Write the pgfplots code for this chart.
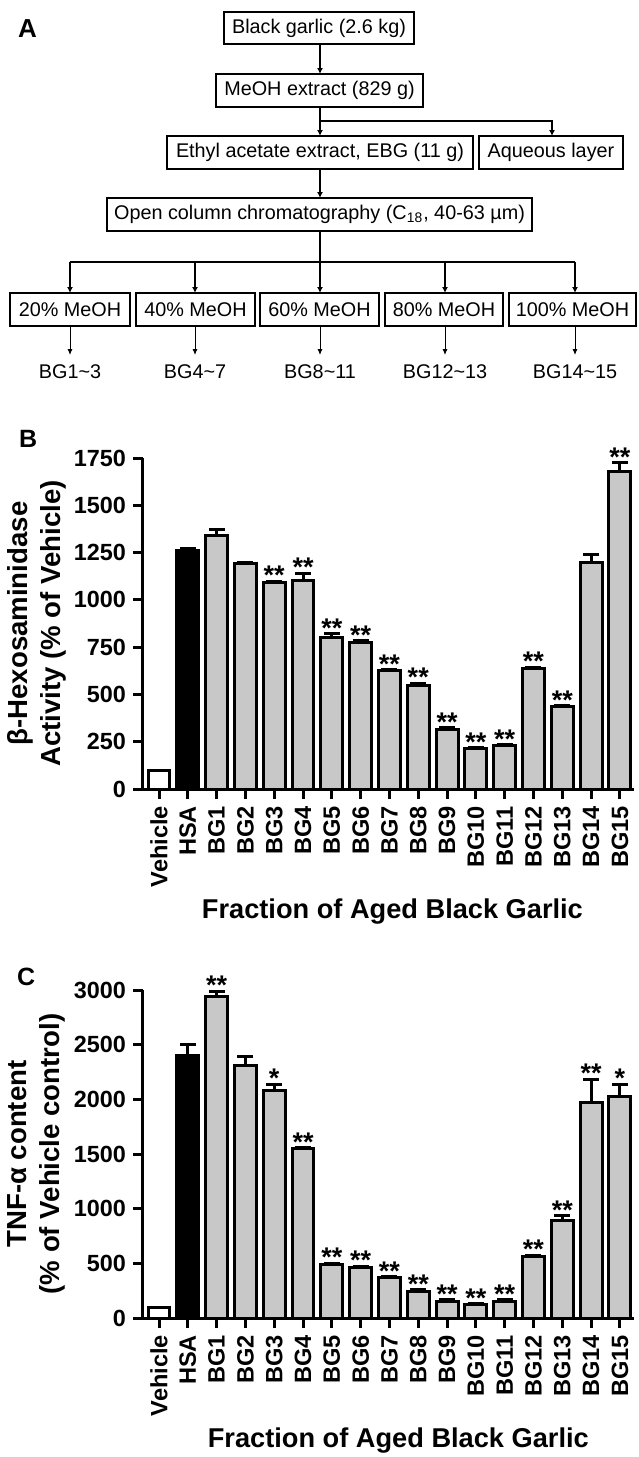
\documentclass[border=0pt]{standalone}
\usepackage{fontspec}
\setmainfont{Liberation Sans}
\usepackage{pgfplots}
\usepackage{pgfplotstable}
\pgfplotsset{compat=1.18}
\usetikzlibrary{arrows.meta}
\definecolor{bargray}{RGB}{200,200,200}

% B: beta-hexosaminidase release (x, mean, error, significance)
\pgfplotstableread{
x y e s
2 1340 30 {}
3 1190 5 {}
4 1090 8 **
5 1100 40 **
6 800 22 **
7 775 10 **
8 625 5 **
9 545 15 **
10 315 8 **
11 215 5 **
12 230 5 **
13 635 10 **
14 435 5 **
15 1200 40 {}
16 1680 45 **
}\dataB

% C: TNF-alpha content
\pgfplotstableread{
x y e s
2 2940 50 **
3 2310 80 {}
4 2080 60 *
5 1550 10 **
6 490 10 **
7 460 15 **
8 370 10 **
9 240 20 **
10 150 15 **
11 120 10 **
12 155 15 **
13 565 10 **
14 890 45 **
15 1970 215 **
16 2030 110 *
}\dataC

\pgfplotsset{
  bgbar/.style={
    scale only axis, width=245.5pt, anchor=south west,
    xmin=-0.556, xmax=16.49, ymin=0,
    axis x line=bottom, axis y line=left,
    axis line style={-, line width=1.5pt},
    tick style={line width=1.5pt, black}, major tick length=5pt, tick align=outside,
    xtick={0,...,16},
    xticklabels={Vehicle,HSA,BG1,BG2,BG3,BG4,BG5,BG6,BG7,BG8,BG9,BG10,BG11,BG12,BG13,BG14,BG15},
    xticklabel style={rotate=90, anchor=east, font=\bfseries\fontsize{11.8}{12}\selectfont},
    yticklabel style={font=\bfseries\fontsize{11.7}{12}\selectfont},
    /pgf/number format/1000 sep={},
    /pgf/number format/assume math mode=true,
    xlabel={Fraction of Aged Black Garlic},
    xlabel style={anchor=base, font=\bfseries\fontsize{13.6}{16}\selectfont},
    ylabel style={anchor=center, align=center, font=\bfseries\fontsize{13.8}{16.5}\selectfont,
      at={(axis description cs:-0.217,0.5)}},
    clip=false,
  },
  barsty/.style={ybar, bar width=0.76, draw=black, line width=1.5pt,
    error bars/y dir=plus, error bars/y explicit,
    error bars/error bar style={line width=1.5pt},
    error bars/error mark options={rotate=90, line width=1.5pt, mark size=4pt}},
  stars/.style={draw=none, mark=none, forget plot, nodes near coords,
    point meta=explicit symbolic,
    nodes near coords style={anchor=south, inner sep=0pt, yshift=-2pt,
      font=\bfseries\fontsize{13.5}{13.5}\selectfont}},
}

\begin{document}
\begin{tikzpicture}
\useasboundingbox (0,0) rectangle (319pt,-728.5pt);

% ---- panel A: flow chart, in pixel units ----
\begin{scope}[x=0.5pt, y=-0.5pt, font=\fontsize{9.9}{12}\selectfont,
  bx/.style={draw, line width=0.6pt},
  cn/.style={line width=1.1pt},
  ar/.style={line width=1.1pt, -{Latex[length=3pt,width=3pt]}}]
  \node[anchor=base west, font=\bfseries\fontsize{13}{13}\selectfont] at (11,37) {A};
  \node[anchor=base west, font=\bfseries\fontsize{12.5}{13}\selectfont] at (12,447) {B};
  \node[anchor=base west, font=\bfseries\fontsize{12.5}{13}\selectfont] at (10,985) {C};

  \draw[bx] (224,12) rectangle (414,44);
  \node at (319,28) {Black garlic (2.6 kg)};
  \draw[ar] (320,44) -- (320,74);
  \draw[bx] (216,74) rectangle (423,107);
  \node at (319.5,90.5) {MeOH extract (829 g)};
  \draw[ar] (320,107) -- (320,136);
  \draw[ar] (320,121) -- (552,121) -- (552,136);
  \draw[bx] (167,136) rectangle (473,169);
  \node at (320,152.5) {Ethyl acetate extract, EBG (11 g)};
  \draw[bx] (479,136) rectangle (623,169);
  \node at (551,152.5) {Aqueous layer};
  \draw[ar] (320,169) -- (320,198);
  \draw[bx] (107,198) rectangle (532,231);
  \node at (319.5,214.5) {Open column chromatography (C\textsubscript{18}, 40-63 µm)};
  \draw[cn] (320,231) -- (320,262);
  \draw[cn] (70,262) -- (575,262);
  \foreach \xx in {70,195,320,445,575}
    \draw[ar] (\xx,262) -- (\xx,293);
  \draw[bx] (10,293) rectangle (130,326);   \node at (70,309.5) {20\% MeOH};
  \draw[bx] (136,293) rectangle (255,326);  \node at (195.5,309.5) {40\% MeOH};
  \draw[bx] (260,293) rectangle (379,326);  \node at (319.5,309.5) {60\% MeOH};
  \draw[bx] (385,293) rectangle (503,326);  \node at (444,309.5) {80\% MeOH};
  \draw[bx] (509,293) rectangle (636,326);  \node at (572.5,309.5) {100\% MeOH};
  \foreach \xx/\lab in {70/BG1\textasciitilde 3, 195/BG4\textasciitilde 7, 320/BG8\textasciitilde 11,
                        445/BG12\textasciitilde 13, 575/BG14\textasciitilde 15} {
    \draw[line width=0.5pt, -{Latex[length=3pt,width=2.6pt]}] (\xx,326) -- (\xx,355);
    \node at (\xx,372) {\lab};
  }
\end{scope}

% ---- panel B ----
\begin{axis}[bgbar, at={(71.5pt,-394.5pt)}, height=165.5pt,
  ymax=1750, ytick={0,250,...,1750},
  ylabel={β-Hexosaminidase\\Activity (\% of Vehicle)},
  xlabel style={at={(axis description cs:0.508,-0.39)}},
]
  \addplot[ybar, bar width=0.76, fill=white, draw=black, line width=1.5pt] coordinates {(0,100)};
  \addplot[fill=black, barsty] coordinates {(1,1260) +- (0,12)};
  \addplot[fill=bargray, barsty] table[x=x, y=y, y error=e] {\dataB};
  \addplot[stars] table[x=x, y expr=\thisrow{y}+\thisrow{e}, meta=s] {\dataB};
\end{axis}

% ---- panel C ----
\begin{axis}[bgbar, at={(71.5pt,-659pt)}, height=164pt,
  ymax=3000, ytick={0,500,...,3000},
  ylabel={TNF-α content\\(\% of Vehicle control)},
  xlabel style={at={(axis description cs:0.52,-0.396)}},
]
  \addplot[ybar, bar width=0.76, fill=white, draw=black, line width=1.5pt] coordinates {(0,100)};
  \addplot[fill=black, barsty] coordinates {(1,2400) +- (0,100)};
  \addplot[fill=bargray, barsty] table[x=x, y=y, y error=e] {\dataC};
  \addplot[stars] table[x=x, y expr=\thisrow{y}+\thisrow{e}, meta=s] {\dataC};
\end{axis}
\end{tikzpicture}
\end{document}
